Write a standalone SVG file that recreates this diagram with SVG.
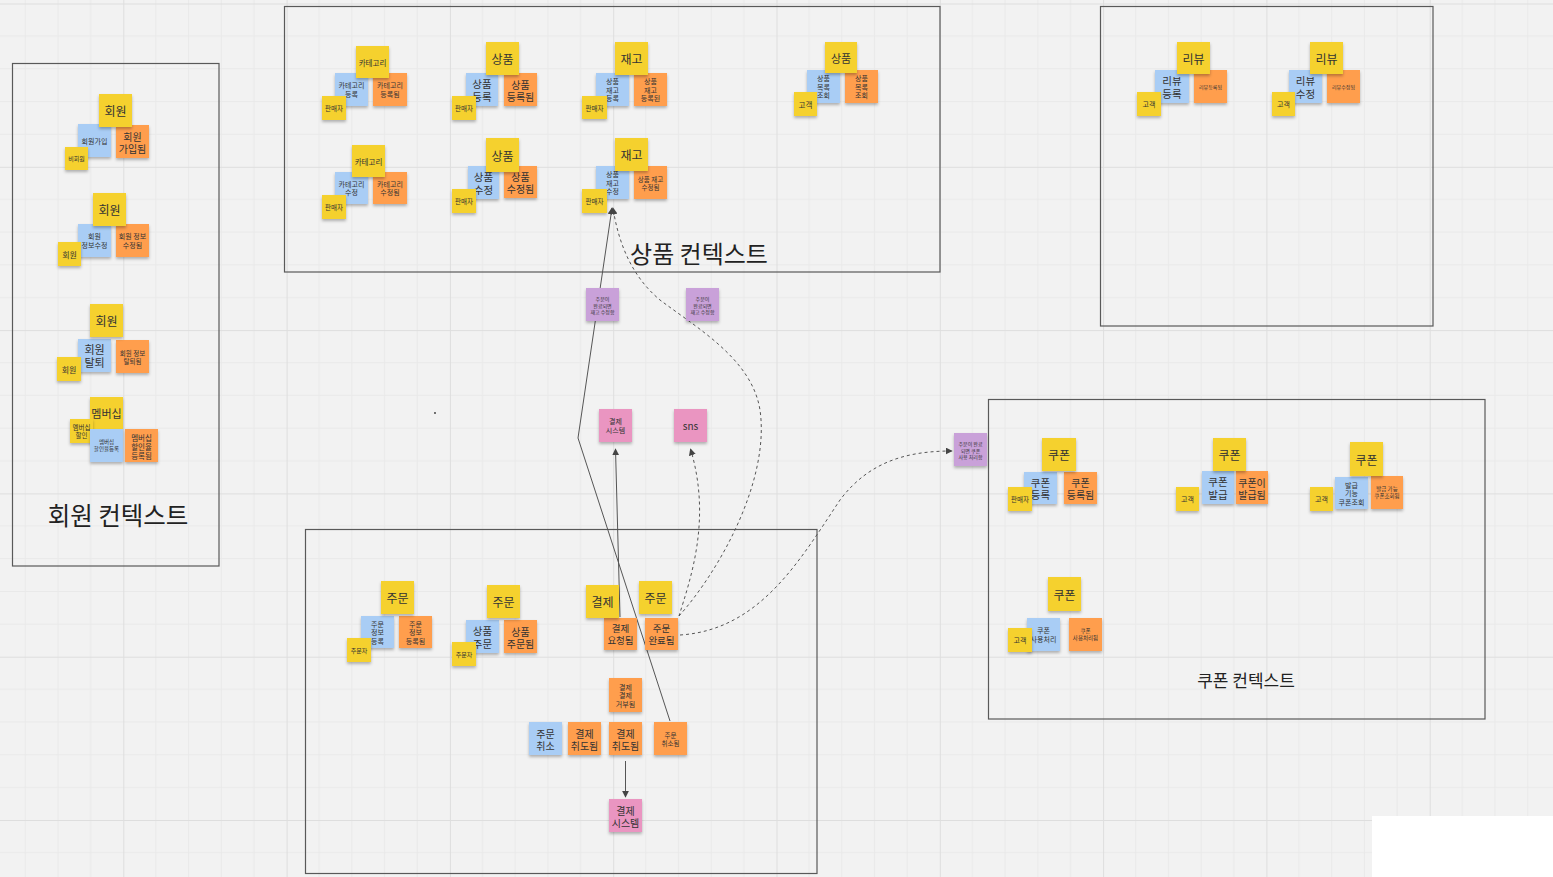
<svg xmlns="http://www.w3.org/2000/svg" width="1553" height="877" viewBox="0 0 1553 877">
<defs>
<pattern id="grid" patternUnits="userSpaceOnUse" x="123.3" y="3.5" width="163.3" height="163.3">
<path d="M32.66 0V163.3M65.32 0V163.3M97.98 0V163.3M130.64 0V163.3M0 32.66H163.3M0 65.32H163.3M0 97.98H163.3M0 130.64H163.3" stroke="#e9e9e9" stroke-width="1" fill="none"/>
<path d="M0.5 0V163.3M0 0.5H163.3" stroke="#dedede" stroke-width="1" fill="none"/>
</pattern>
<filter id="sh" x="-20%" y="-20%" width="140%" height="150%">
<feDropShadow dx="0" dy="2" stdDeviation="1.4" flood-color="#000" flood-opacity="0.28"/>
</filter>
<marker id="ah" viewBox="0 0 10 10" refX="9" refY="5" markerWidth="7" markerHeight="7" orient="auto-start-reverse" markerUnits="userSpaceOnUse">
<path d="M0 0L10 5L0 10z" fill="#444"/>
</marker>
</defs>
<style>
.n{filter:url(#sh)}
.y{fill:#f5d12e}
.b{fill:#a9cdf5}
.o{fill:#ff9e4e}
.p{fill:#ea95c1}
.u{fill:#c9a1d9}
text{font-family:"Noto Sans CJK KR","Noto Sans CJK SC",sans-serif;fill:#333;text-anchor:middle;dominant-baseline:central}
.ctx{fill:none;stroke:#595959;stroke-width:1.2}
.lbl{fill:#222;dominant-baseline:auto}
.c{fill:none;stroke:#555;stroke-width:1}
.d{stroke-dasharray:3 3}
</style>
<rect width="1553" height="877" fill="#f2f2f2"/>
<rect width="1553" height="877" fill="url(#grid)"/>
<rect x="1372" y="816" width="181" height="61" fill="#ffffff"/>
<circle cx="435" cy="413" r="0.9" fill="#333"/>

<g id="contexts">
<g id="ctx-member"><rect class="ctx" x="12.5" y="63.5" width="206.5" height="502.5"/><text class="lbl" x="118" y="525" font-size="24.5">회원 컨텍스트</text></g>
<g id="ctx-product"><rect class="ctx" x="284.5" y="6.5" width="655.5" height="265.5"/><text class="lbl" x="699" y="263" font-size="24">상품 컨텍스트</text></g>
<g id="ctx-review"><rect class="ctx" x="1100.5" y="6.5" width="332.5" height="319.5"/></g>
<g id="ctx-coupon"><rect class="ctx" x="988.5" y="399.5" width="496.5" height="319.5"/><text class="lbl" x="1246" y="687" font-size="17">쿠폰 컨텍스트</text></g>
<g id="ctx-order"><rect class="ctx" x="305.5" y="529.5" width="511.5" height="344"/></g>
</g>

<g id="connectors">
<path class="c" d="M620 617L615.5 449" marker-end="url(#ah)"/>
<path class="c" d="M670 721L578 438L612 208" marker-end="url(#ah)"/>
<path class="c d" d="M679 616C690 580 712 520 690.5 449" marker-end="url(#ah)"/>
<path class="c d" d="M679 616C720 570 770 480 760 410C752 360 700 330 660 300C630 275 618 240 613 208" marker-end="url(#ah)"/>
<path class="c d" d="M680 635C760 630 800 560 840 500C870 460 910 451 952 451" marker-end="url(#ah)"/>
<path class="c" d="M625.5 761L625.5 797" marker-end="url(#ah)"/>
</g>

<g id="m2"><rect class="n b" x="78" y="124" width="33" height="33"/><text x="94.5" y="140.5" font-size="7">회원가입</text></g>
<g id="m3"><rect class="n o" x="116" y="125" width="33" height="33"/><text x="132.5" y="135.5" font-size="10"><tspan x="132.5">회원</tspan><tspan x="132.5" dy="12">가입됨</tspan></text></g>
<g id="m1"><rect class="n y" x="99" y="94" width="33" height="33"/><text x="115.5" y="110.5" font-size="12">회원</text></g>
<g id="m4"><rect class="n y" x="65" y="147" width="23" height="23"/><text x="76.5" y="158.5" font-size="6">비회원</text></g>

<g id="m6"><rect class="n b" x="78" y="224" width="33" height="33"/><text x="94.5" y="236.25" font-size="7"><tspan x="94.5">회원</tspan><tspan x="94.5" dy="8.5">정보수정</tspan></text></g>
<g id="m7"><rect class="n o" x="116" y="224" width="33" height="33"/><text x="132.5" y="236.25" font-size="7"><tspan x="132.5">회원 정보</tspan><tspan x="132.5" dy="8.5">수정됨</tspan></text></g>
<g id="m5"><rect class="n y" x="93" y="193" width="33" height="33"/><text x="109.5" y="209.5" font-size="12">회원</text></g>
<g id="m8"><rect class="n y" x="58" y="242" width="23" height="24"/><text x="69.5" y="254" font-size="8">회원</text></g>

<g id="m10"><rect class="n b" x="78" y="339" width="33" height="33"/><text x="94.5" y="349" font-size="11"><tspan x="94.5">회원</tspan><tspan x="94.5" dy="13">탈퇴</tspan></text></g>
<g id="m11"><rect class="n o" x="116" y="340" width="33" height="33"/><text x="132.5" y="352.5" font-size="6.5"><tspan x="132.5">회원 정보</tspan><tspan x="132.5" dy="8">탈퇴됨</tspan></text></g>
<g id="m9"><rect class="n y" x="90" y="304" width="33" height="33"/><text x="106.5" y="320.5" font-size="12">회원</text></g>
<g id="m12"><rect class="n y" x="57" y="357" width="24" height="24"/><text x="69" y="369" font-size="8">회원</text></g>

<g id="m13"><rect class="n y" x="90" y="397" width="33" height="32"/><text x="106.5" y="413" font-size="11">멤버십</text></g>
<g id="m14"><rect class="n y" x="70" y="419" width="23" height="24"/><text x="81.5" y="427" font-size="6.5"><tspan x="81.5">멤버십</tspan><tspan x="81.5" dy="8">할인</tspan></text></g>
<g id="m15"><rect class="n b" x="90" y="429" width="33" height="33"/><text x="106.5" y="442" font-size="5.5"><tspan x="106.5">멤버십</tspan><tspan x="106.5" dy="7">할인율등록</tspan></text></g>
<g id="m16"><rect class="n o" x="125" y="429" width="33" height="33"/><text x="141.5" y="436.5" font-size="7.5"><tspan x="141.5">멤버십</tspan><tspan x="141.5" dy="9">할인율</tspan><tspan x="141.5" dy="9">등록됨</tspan></text></g>

<g id="p2"><rect class="n b" x="335" y="73" width="33" height="33"/><text x="351.5" y="85.25" font-size="7"><tspan x="351.5">카테고리</tspan><tspan x="351.5" dy="8.5">등록</tspan></text></g>
<g id="p3"><rect class="n o" x="373" y="73" width="34" height="33"/><text x="390" y="85.25" font-size="7"><tspan x="390">카테고리</tspan><tspan x="390" dy="8.5">등록됨</tspan></text></g>
<g id="p1"><rect class="n y" x="356" y="46" width="33" height="32"/><text x="372.5" y="62" font-size="7.5">카테고리</text></g>
<g id="p4"><rect class="n y" x="322" y="96" width="24" height="24"/><text x="334" y="108" font-size="6.5">판매자</text></g>

<g id="p6"><rect class="n b" x="466" y="73" width="32" height="33"/><text x="482" y="83.25" font-size="10.5"><tspan x="482">상품</tspan><tspan x="482" dy="12.5">등록</tspan></text></g>
<g id="p7"><rect class="n o" x="504" y="73" width="33" height="33"/><text x="520.5" y="83.5" font-size="10"><tspan x="520.5">상품</tspan><tspan x="520.5" dy="12">등록됨</tspan></text></g>
<g id="p5"><rect class="n y" x="486" y="42" width="33" height="33"/><text x="502.5" y="58.5" font-size="12">상품</text></g>
<g id="p8"><rect class="n y" x="452" y="96" width="24" height="24"/><text x="464" y="108" font-size="6.5">판매자</text></g>

<g id="p10"><rect class="n b" x="335" y="172" width="33" height="32"/><text x="351.5" y="183.75" font-size="7"><tspan x="351.5">카테고리</tspan><tspan x="351.5" dy="8.5">수정</tspan></text></g>
<g id="p11"><rect class="n o" x="373" y="172" width="34" height="32"/><text x="390" y="183.75" font-size="7"><tspan x="390">카테고리</tspan><tspan x="390" dy="8.5">수정됨</tspan></text></g>
<g id="p9"><rect class="n y" x="352" y="145" width="33" height="32"/><text x="368.5" y="161" font-size="7.5">카테고리</text></g>
<g id="p12"><rect class="n y" x="322" y="195" width="24" height="24"/><text x="334" y="207" font-size="6.5">판매자</text></g>

<g id="p14"><rect class="n b" x="468" y="166" width="31" height="33"/><text x="483.5" y="176.25" font-size="10.5"><tspan x="483.5">상품</tspan><tspan x="483.5" dy="12.5">수정</tspan></text></g>
<g id="p15"><rect class="n o" x="504" y="166" width="33" height="32"/><text x="520.5" y="176" font-size="10"><tspan x="520.5">상품</tspan><tspan x="520.5" dy="12">수정됨</tspan></text></g>
<g id="p13"><rect class="n y" x="486" y="138" width="33" height="34"/><text x="502.5" y="155" font-size="12">상품</text></g>
<g id="p16"><rect class="n y" x="452" y="189" width="24" height="24"/><text x="464" y="201" font-size="6.5">판매자</text></g>

<g id="p18"><rect class="n b" x="596" y="73" width="33" height="33"/><text x="612.5" y="81" font-size="7"><tspan x="612.5">상품</tspan><tspan x="612.5" dy="8.5">재고</tspan><tspan x="612.5" dy="8.5">등록</tspan></text></g>
<g id="p19"><rect class="n o" x="634" y="73" width="33" height="33"/><text x="650.5" y="81" font-size="7"><tspan x="650.5">상품</tspan><tspan x="650.5" dy="8.5">재고</tspan><tspan x="650.5" dy="8.5">등록된</tspan></text></g>
<g id="p17"><rect class="n y" x="615" y="42" width="33" height="33"/><text x="631.5" y="58.5" font-size="12">재고</text></g>
<g id="p20"><rect class="n y" x="582" y="96" width="25" height="23"/><text x="594.5" y="107.5" font-size="6.5">판매자</text></g>

<g id="p22"><rect class="n b" x="596" y="166" width="33" height="33"/><text x="612.5" y="174" font-size="7"><tspan x="612.5">상품</tspan><tspan x="612.5" dy="8.5">재고</tspan><tspan x="612.5" dy="8.5">수정</tspan></text></g>
<g id="p23"><rect class="n o" x="634" y="166" width="33" height="33"/><text x="650.5" y="178.5" font-size="6.5"><tspan x="650.5">상품 재고</tspan><tspan x="650.5" dy="8">수정됨</tspan></text></g>
<g id="p21"><rect class="n y" x="615" y="138" width="33" height="33"/><text x="631.5" y="154.5" font-size="12">재고</text></g>
<g id="p24"><rect class="n y" x="582" y="189" width="25" height="24"/><text x="594.5" y="201" font-size="6.5">판매자</text></g>

<g id="p26"><rect class="n b" x="807" y="70" width="33" height="33"/><text x="823.5" y="78" font-size="7"><tspan x="823.5">상품</tspan><tspan x="823.5" dy="8.5">목록</tspan><tspan x="823.5" dy="8.5">조회</tspan></text></g>
<g id="p27"><rect class="n o" x="845" y="70" width="33" height="33"/><text x="861.5" y="78" font-size="7"><tspan x="861.5">상품</tspan><tspan x="861.5" dy="8.5">목록</tspan><tspan x="861.5" dy="8.5">조회</tspan></text></g>
<g id="p25"><rect class="n y" x="825" y="42" width="32" height="31"/><text x="841" y="57.5" font-size="11">상품</text></g>
<g id="p28"><rect class="n y" x="794" y="92" width="23" height="24"/><text x="805.5" y="104" font-size="7.5">고객</text></g>

<g id="r2"><rect class="n b" x="1155" y="70" width="34" height="33"/><text x="1172" y="80.25" font-size="10.5"><tspan x="1172">리뷰</tspan><tspan x="1172" dy="12.5">등록</tspan></text></g>
<g id="r3"><rect class="n o" x="1194" y="70" width="33" height="33"/><text x="1210.5" y="86.5" font-size="5">리뷰등록됨</text></g>
<g id="r1"><rect class="n y" x="1177" y="42" width="33" height="32"/><text x="1193.5" y="58" font-size="12">리뷰</text></g>
<g id="r4"><rect class="n y" x="1137" y="92" width="24" height="24"/><text x="1149" y="104" font-size="7">고객</text></g>

<g id="r6"><rect class="n b" x="1289" y="70" width="33" height="33"/><text x="1305.5" y="80.25" font-size="10.5"><tspan x="1305.5">리뷰</tspan><tspan x="1305.5" dy="12.5">수정</tspan></text></g>
<g id="r7"><rect class="n o" x="1327" y="70" width="33" height="33"/><text x="1343.5" y="86.5" font-size="5">리뷰수정됨</text></g>
<g id="r5"><rect class="n y" x="1310" y="42" width="33" height="32"/><text x="1326.5" y="58" font-size="12">리뷰</text></g>
<g id="r8"><rect class="n y" x="1272" y="92" width="23" height="24"/><text x="1283.5" y="104" font-size="7">고객</text></g>

<g id="n1"><rect class="n u" x="586" y="288" width="33" height="33"/><text x="602.5" y="298" font-size="5"><tspan x="602.5">주문이</tspan><tspan x="602.5" dy="6.5">완료되면</tspan><tspan x="602.5" dy="6.5">재고 수정함</tspan></text></g>
<g id="n2"><rect class="n u" x="686" y="288" width="33" height="33"/><text x="702.5" y="298" font-size="5"><tspan x="702.5">주문이</tspan><tspan x="702.5" dy="6.5">완료되면</tspan><tspan x="702.5" dy="6.5">재고 수정함</tspan></text></g>
<g id="n3"><rect class="n p" x="599" y="409" width="33" height="33"/><text x="615.5" y="421.25" font-size="7"><tspan x="615.5">결제</tspan><tspan x="615.5" dy="8.5">시스템</tspan></text></g>
<g id="n4"><rect class="n p" x="674" y="409" width="33" height="33"/><text x="690.5" y="425.5" font-size="10">sns</text></g>

<g id="o2"><rect class="n b" x="361" y="616" width="33" height="32"/><text x="377.5" y="623.5" font-size="7"><tspan x="377.5">주문</tspan><tspan x="377.5" dy="8.5">정보</tspan><tspan x="377.5" dy="8.5">등록</tspan></text></g>
<g id="o3"><rect class="n o" x="399" y="616" width="33" height="32"/><text x="415.5" y="623.5" font-size="7"><tspan x="415.5">주문</tspan><tspan x="415.5" dy="8.5">정보</tspan><tspan x="415.5" dy="8.5">등록됨</tspan></text></g>
<g id="o1"><rect class="n y" x="381" y="581" width="33" height="33"/><text x="397.5" y="597.5" font-size="12">주문</text></g>
<g id="o4"><rect class="n y" x="347" y="638" width="24" height="24"/><text x="359" y="650" font-size="6">주문자</text></g>

<g id="o6"><rect class="n b" x="466" y="620" width="33" height="33"/><text x="482.5" y="630.25" font-size="10.5"><tspan x="482.5">상품</tspan><tspan x="482.5" dy="12.5">주문</tspan></text></g>
<g id="o7"><rect class="n o" x="504" y="620" width="33" height="33"/><text x="520.5" y="630.5" font-size="10"><tspan x="520.5">상품</tspan><tspan x="520.5" dy="12">주문됨</tspan></text></g>
<g id="o5"><rect class="n y" x="487" y="585" width="33" height="33"/><text x="503.5" y="601.5" font-size="12">주문</text></g>
<g id="o8"><rect class="n y" x="452" y="642" width="24" height="24"/><text x="464" y="654" font-size="6">주문자</text></g>

<g id="o11"><rect class="n o" x="604" y="618" width="33" height="32"/><text x="620.5" y="628.25" font-size="9.5"><tspan x="620.5">결제</tspan><tspan x="620.5" dy="11.5">요청됨</tspan></text></g>
<g id="o12"><rect class="n o" x="645" y="618" width="33" height="32"/><text x="661.5" y="628.25" font-size="9.5"><tspan x="661.5">주문</tspan><tspan x="661.5" dy="11.5">완료됨</tspan></text></g>
<g id="o9"><rect class="n y" x="586" y="585" width="33" height="33"/><text x="602.5" y="601.5" font-size="12">결제</text></g>
<g id="o10"><rect class="n y" x="639" y="581" width="33" height="33"/><text x="655.5" y="597.5" font-size="12">주문</text></g>
<g id="o13"><rect class="n o" x="609" y="678" width="33" height="34"/><text x="625.5" y="686.5" font-size="7"><tspan x="625.5">결제</tspan><tspan x="625.5" dy="8.5">결제</tspan><tspan x="625.5" dy="8.5">거부됨</tspan></text></g>
<g id="o14"><rect class="n b" x="529" y="722" width="33" height="33"/><text x="545.5" y="732.5" font-size="10"><tspan x="545.5">주문</tspan><tspan x="545.5" dy="12">취소</tspan></text></g>
<g id="o15"><rect class="n o" x="568" y="722" width="33" height="33"/><text x="584.5" y="732.5" font-size="10"><tspan x="584.5">결제</tspan><tspan x="584.5" dy="12">취도됨</tspan></text></g>
<g id="o16"><rect class="n o" x="609" y="722" width="33" height="33"/><text x="625.5" y="732.5" font-size="10"><tspan x="625.5">결제</tspan><tspan x="625.5" dy="12">취도됨</tspan></text></g>
<g id="o17"><rect class="n o" x="654" y="722" width="33" height="33"/><text x="670.5" y="734.5" font-size="6.5"><tspan x="670.5">주문</tspan><tspan x="670.5" dy="8">취소됨</tspan></text></g>
<g id="o18"><rect class="n p" x="609" y="799" width="33" height="33"/><text x="625.5" y="809.5" font-size="10"><tspan x="625.5">결제</tspan><tspan x="625.5" dy="12">시스템</tspan></text></g>

<g id="c0"><rect class="n u" x="954" y="433" width="33" height="33"/><text x="970.5" y="443" font-size="5"><tspan x="970.5">주문이 완료</tspan><tspan x="970.5" dy="6.5">되면 쿠폰</tspan><tspan x="970.5" dy="6.5">사용 처리함</tspan></text></g>

<g id="c2"><rect class="n b" x="1024" y="472" width="33" height="32"/><text x="1040.5" y="481.75" font-size="10.5"><tspan x="1040.5">쿠폰</tspan><tspan x="1040.5" dy="12.5">등록</tspan></text></g>
<g id="c3"><rect class="n o" x="1064" y="472" width="33" height="32"/><text x="1080.5" y="482" font-size="10"><tspan x="1080.5">쿠폰</tspan><tspan x="1080.5" dy="12">등록됨</tspan></text></g>
<g id="c1"><rect class="n y" x="1042" y="438" width="34" height="33"/><text x="1059" y="454.5" font-size="12">쿠폰</text></g>
<g id="c4"><rect class="n y" x="1008" y="487" width="24" height="24"/><text x="1020" y="499" font-size="6.5">판매자</text></g>

<g id="c6"><rect class="n b" x="1202" y="471" width="32" height="33"/><text x="1218" y="481.25" font-size="10.5"><tspan x="1218">쿠폰</tspan><tspan x="1218" dy="12.5">발급</tspan></text></g>
<g id="c7"><rect class="n o" x="1236" y="471" width="32" height="33"/><text x="1252" y="481.5" font-size="10"><tspan x="1252">쿠폰이</tspan><tspan x="1252" dy="12">발급됨</tspan></text></g>
<g id="c5"><rect class="n y" x="1213" y="438" width="33" height="33"/><text x="1229.5" y="454.5" font-size="12">쿠폰</text></g>
<g id="c8"><rect class="n y" x="1176" y="487" width="23" height="24"/><text x="1187.5" y="499" font-size="7">고객</text></g>

<g id="c10"><rect class="n b" x="1335" y="477" width="33" height="32"/><text x="1351.5" y="484.5" font-size="7"><tspan x="1351.5">발급</tspan><tspan x="1351.5" dy="8.5">기능</tspan><tspan x="1351.5" dy="8.5">쿠폰조회</tspan></text></g>
<g id="c11"><rect class="n o" x="1371" y="476" width="32" height="33"/><text x="1387" y="489" font-size="5.5"><tspan x="1387">발급 가능</tspan><tspan x="1387" dy="7">쿠폰조회됨</tspan></text></g>
<g id="c9"><rect class="n y" x="1350" y="442" width="33" height="34"/><text x="1366.5" y="459" font-size="12">쿠폰</text></g>
<g id="c12"><rect class="n y" x="1310" y="487" width="23" height="24"/><text x="1321.5" y="499" font-size="7">고객</text></g>

<g id="c14"><rect class="n b" x="1027" y="618" width="33" height="33"/><text x="1043.5" y="630.25" font-size="7"><tspan x="1043.5">쿠폰</tspan><tspan x="1043.5" dy="8.5">사용처리</tspan></text></g>
<g id="c15"><rect class="n o" x="1069" y="618" width="33" height="33"/><text x="1085.5" y="631" font-size="5.5"><tspan x="1085.5">쿠폰</tspan><tspan x="1085.5" dy="7">사용처리됨</tspan></text></g>
<g id="c13"><rect class="n y" x="1048" y="577" width="33" height="34"/><text x="1064.5" y="594" font-size="12">쿠폰</text></g>
<g id="c16"><rect class="n y" x="1008" y="628" width="24" height="24"/><text x="1020" y="640" font-size="7">고객</text></g>
</svg>
